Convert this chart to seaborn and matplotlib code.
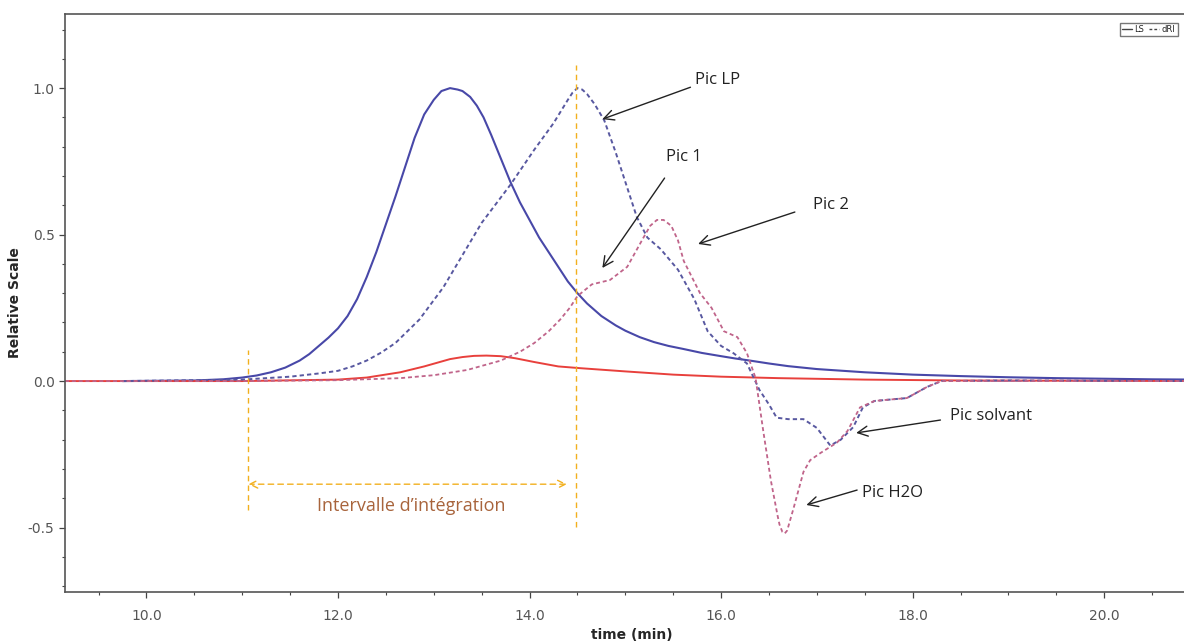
import numpy as np
import pandas as pd
import matplotlib
matplotlib.use("Agg")
import matplotlib.pyplot as plt
from matplotlib.lines import Line2D
from matplotlib.ticker import MultipleLocator, FormatStrFormatter
import seaborn as sns

# --- data (time in min, relative scale) ---
t_ls_a = [9.75, 10.5, 10.8, 11.0, 11.15, 11.3, 11.45, 11.6, 11.7, 11.8, 11.9, 12.0, 12.1, 12.2,
          12.3, 12.4, 12.5, 12.6, 12.7, 12.8, 12.9, 13.0, 13.08, 13.17, 13.25, 13.3, 13.38, 13.45,
          13.52, 13.6, 13.7, 13.8, 13.9, 14.0, 14.1, 14.2, 14.3, 14.4, 14.5, 14.6, 14.75, 14.9,
          15.0, 15.15, 15.3, 15.45, 15.6, 15.8, 16.0, 16.15, 16.3, 16.5, 16.7, 17.0, 17.5, 18.0,
          18.5, 19.0, 19.5, 20.0, 20.5, 21.0]
y_ls_a = [0.0, 0.002, 0.006, 0.012, 0.019, 0.03, 0.046, 0.07, 0.092, 0.12, 0.148, 0.18, 0.222,
          0.28, 0.355, 0.44, 0.535, 0.63, 0.73, 0.83, 0.91, 0.96, 0.99, 1.0, 0.995, 0.99, 0.97,
          0.94, 0.9, 0.84, 0.76, 0.68, 0.61, 0.55, 0.49, 0.44, 0.39, 0.34, 0.30, 0.265, 0.222,
          0.19, 0.172, 0.15, 0.133, 0.12, 0.11, 0.096, 0.085, 0.077, 0.07, 0.06, 0.051, 0.041,
          0.03, 0.022, 0.017, 0.013, 0.01, 0.008, 0.006, 0.005]

t_dri_a = [9.15, 11.0, 12.0, 12.3, 12.65, 12.9, 13.17, 13.3, 13.42, 13.55, 13.7, 13.85, 14.05,
           14.3, 14.53, 15.0, 15.5, 16.0, 16.6, 17.5, 18.5, 21.0]
y_dri_a = [0.0, 0.0, 0.005, 0.012, 0.03, 0.05, 0.075, 0.082, 0.086, 0.087, 0.085, 0.078, 0.065,
           0.05, 0.044, 0.033, 0.022, 0.015, 0.01, 0.005, 0.002, 0.0]

t_ls_b = [9.75, 11.0, 11.5, 11.8, 12.0, 12.15, 12.3, 12.45, 12.6, 12.85, 13.1, 13.3, 13.5, 13.8,
          14.05, 14.25, 14.4, 14.45, 14.5, 14.55, 14.6, 14.68, 14.78, 14.9, 15.02, 15.12, 15.23,
          15.37, 15.55, 15.72, 15.86, 16.0, 16.13, 16.27, 16.4, 16.5, 16.58, 16.7, 16.86, 17.0,
          17.14, 17.25, 17.38, 17.48, 17.6, 17.8, 17.94, 18.15, 18.3, 19.0, 21.0]
y_ls_b = [0.0, 0.005, 0.015, 0.026, 0.035, 0.05, 0.07, 0.097, 0.13, 0.21, 0.32, 0.43, 0.54,
          0.67, 0.79, 0.88, 0.96, 0.985, 1.0, 0.995, 0.98, 0.945, 0.89, 0.78, 0.66, 0.56, 0.49,
          0.45, 0.38, 0.28, 0.17, 0.12, 0.095, 0.06, -0.03, -0.08, -0.125, -0.13, -0.13, -0.16,
          -0.22, -0.2, -0.157, -0.09, -0.068, -0.062, -0.058, -0.02, 0.0, 0.002, 0.0]

t_dri_b = [9.15, 11.0, 12.0, 12.65, 13.0, 13.35, 13.7, 13.9, 14.05, 14.2, 14.32, 14.42, 14.5,
           14.65, 14.84, 15.02, 15.19, 15.26, 15.33, 15.4, 15.48, 15.55, 15.61, 15.78, 15.9,
           16.03, 16.17, 16.27, 16.36, 16.44, 16.52, 16.59, 16.61, 16.64, 16.665, 16.69, 16.76,
           16.86, 16.93, 17.04, 17.21, 17.32, 17.45, 17.6, 17.8, 17.94, 18.15, 18.3, 21.0]
y_dri_b = [0.0, 0.0, 0.003, 0.01, 0.02, 0.038, 0.07, 0.1, 0.13, 0.17, 0.21, 0.25, 0.29,
           0.33, 0.345, 0.39, 0.49, 0.53, 0.55, 0.55, 0.53, 0.48, 0.41, 0.30, 0.25,
           0.17, 0.15, 0.095, 0.01, -0.17, -0.34, -0.46, -0.49, -0.515, -0.52, -0.51, -0.43,
           -0.31, -0.27, -0.245, -0.21, -0.17, -0.09, -0.068, -0.062, -0.058, -0.02, 0.0, 0.0]

integ_start, integ_end = 11.065, 14.48

sns.set_style("ticks")
plt.rcParams['font.family'] = ['DejaVu Sans']
plt.rcParams['lines.solid_joinstyle'] = 'round'

fig = plt.figure(figsize=(11.84, 6.41), dpi=100)
ax = fig.add_axes([65/1184, 49/641, 1135/1184, 578/641])

sns.lineplot(x=t_ls_a, y=y_ls_a, ax=ax, color='#4848a8', lw=1.5, estimator=None, sort=False)
sns.lineplot(x=t_dri_a, y=y_dri_a, ax=ax, color='#e8403c', lw=1.4, estimator=None, sort=False)
sns.lineplot(x=t_ls_b, y=y_ls_b, ax=ax, color='#5858a0', lw=1.4, estimator=None, sort=False,
             linestyle=(0, (2.2, 1.6)))
sns.lineplot(x=t_dri_b, y=y_dri_b, ax=ax, color='#c0648a', lw=1.3, estimator=None, sort=False,
             linestyle=(0, (2.2, 1.6)))

ax.set_xlim(9.15, 21.0)
ax.set_ylim(-0.72, 1.253)
ax.xaxis.set_major_locator(MultipleLocator(2))
ax.xaxis.set_minor_locator(MultipleLocator(0.5))
ax.yaxis.set_major_locator(MultipleLocator(0.5))
ax.yaxis.set_minor_locator(MultipleLocator(0.1))
ax.xaxis.set_major_formatter(FormatStrFormatter('%.1f'))
ax.yaxis.set_major_formatter(FormatStrFormatter('%.1f'))
ax.tick_params(which='major', length=4, width=0.9, colors='#444444', labelsize=10,
               labelcolor='#555555')
ax.tick_params(which='minor', length=2.5, width=0.8, colors='#444444')
ax.tick_params(axis='x', pad=8)
for s in ax.spines.values():
    s.set_color('#555555')
    s.set_linewidth(1.2)

ax.set_xlabel('time (min)', fontsize=10, fontweight='bold')
ax.set_ylabel('Relative Scale', fontsize=10, fontweight='bold')
ax.yaxis.set_label_coords(-0.038, 0.5)
ax.xaxis.set_label_coords((632 - 65) / 1135, -0.062)

# integration window
gold = '#f2b01e'
ax.vlines(integ_start, -0.44, 0.106, color=gold, lw=1.0, linestyles=(0, (4, 3)))
ax.vlines(integ_end, -0.498, 1.078, color=gold, lw=1.0, linestyles=(0, (4, 3)))
ax.annotate('', xy=(integ_start, -0.352), xytext=(14.39, -0.352),
            arrowprops=dict(arrowstyle='<->', color=gold, lw=1.0, linestyle=(0, (4, 3)),
                            mutation_scale=14, shrinkA=0, shrinkB=0))
ax.text(12.76, -0.427, 'Intervalle d\u2019int\u00e9gration', color='#a8643c', fontsize=13,
        family='Open Sans', ha='center', va='center')

# peak annotations
peaks = [('Pic LP', (15.73, 1.027), (15.68, 1.003), (14.76, 0.894)),
         ('Pic 1', (15.42, 0.765), (15.41, 0.693), (14.76, 0.386)),
         ('Pic 2', (16.96, 0.60), (16.77, 0.577), (15.76, 0.468)),
         ('Pic solvant', (18.39, -0.12), (18.29, -0.133), (17.41, -0.177)),
         ('Pic H2O', (17.47, -0.382), (17.42, -0.372), (16.89, -0.423))]
for label, tpos, a0, a1 in peaks:
    ax.text(tpos[0], tpos[1], label, fontsize=12, family='Open Sans', color='#222222',
            ha='left', va='center')
    ax.annotate('', xy=a1, xytext=a0,
                arrowprops=dict(arrowstyle='->', color='#222222', lw=1.0,
                                mutation_scale=18, shrinkA=0, shrinkB=0))

handles = [Line2D([], [], color='#444444', lw=1.0),
           Line2D([], [], color='#444444', lw=1.0, linestyle=(0, (2, 1.5)))]
leg = ax.legend(handles, ['LS', 'dRI'], ncol=2, fontsize=6, frameon=True,
                fancybox=False, edgecolor='#555555', handlelength=1.2, handletextpad=0.3,
                columnspacing=0.6, borderpad=0.25, loc='upper right',
                bbox_to_anchor=(1182 / 1184, 622 / 641), bbox_transform=fig.transFigure)

fig.savefig('out.png', dpi=100)
